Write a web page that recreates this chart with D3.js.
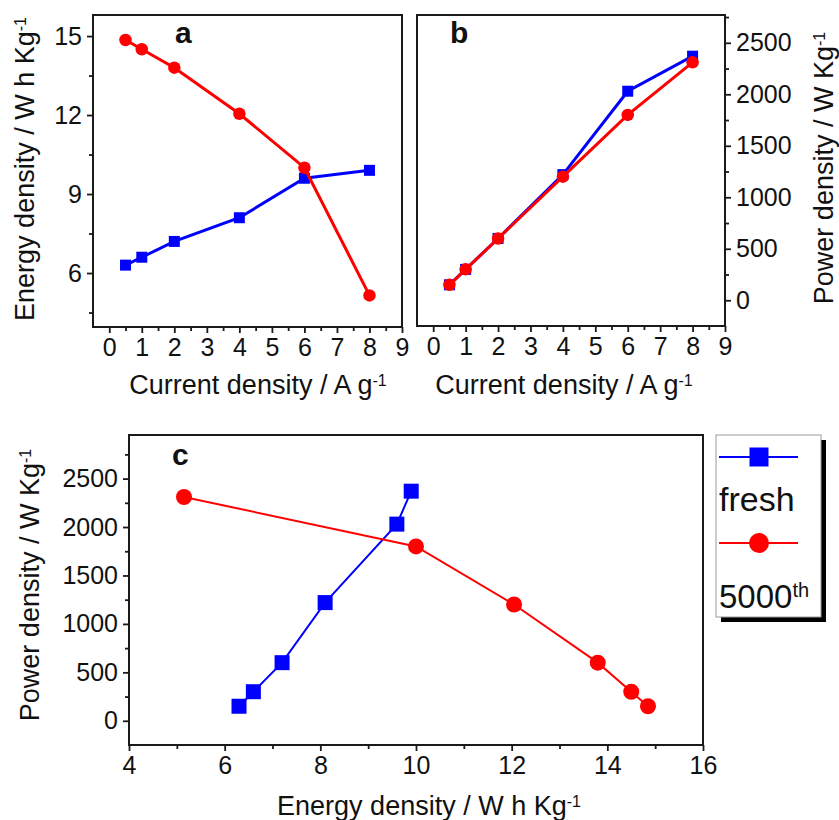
<!DOCTYPE html>
<html><head><meta charset="utf-8">
<script src="https://cdn.jsdelivr.net/npm/d3@7"></script>
<style>body{margin:0;background:#fff}svg{display:block}text{font-family:"Liberation Sans",Arial,sans-serif}</style>
</head><body><svg id="c" width="839" height="820"></svg>
<script>
// Data
const current = [0.5, 1, 2, 4, 6, 8];
const energyFresh = [6.3, 6.6, 7.2, 8.1, 9.6, 9.9];
const energy5000 = [14.85, 14.5, 13.8, 12.05, 10.0, 5.15];
const powerFresh = [150, 300, 600, 1220, 2030, 2370];
const power5000 = [150, 300, 600, 1200, 1800, 2310];
const seriesNames = ["fresh", "5000"];
const xTicksAB = [0,1,2,3,4,5,6,7,8,9];
const yTicksA = [6, 9, 12, 15];
const yTicksPower = [0, 500, 1000, 1500, 2000, 2500];
const xTicksC = [4, 6, 8, 10, 12, 14, 16];

const BLUE = "#0000ff", RED = "#ff0000", INK = "#1a1a1a";
const svg = d3.select("#c");
svg.append("rect").attr("width",839).attr("height",820).attr("fill","#fff");

function frame(x0,y0,x1,y1){
  svg.append("rect").attr("x",x0).attr("y",y0).attr("width",x1-x0).attr("height",y1-y0)
    .attr("fill","none").attr("stroke",INK).attr("stroke-width",2);
}
function axis(gen, scale, ticks, minor, tx, ty, fmt){
  const g = svg.append("g").attr("transform",`translate(${tx},${ty})`);
  g.call(gen(scale).tickValues(minor).tickSize(4).tickFormat(""));
  const g2 = svg.append("g").attr("transform",`translate(${tx},${ty})`);
  g2.call(gen(scale).tickValues(ticks).tickSize(6).tickPadding(5).tickFormat(fmt||(d=>d)));
  [g,g2].forEach(gg=>{
    gg.select(".domain").remove();
    gg.selectAll("line").attr("stroke",INK).attr("stroke-width",1.8);
    gg.selectAll("text").attr("font-size",25).attr("fill","#111");
  });
  return g2;
}
function series(xs, ys, sx, sy, color, shape, size, lw){
  const pts = xs.map((x,i)=>[sx(x), sy(ys[i])]);
  svg.append("path").attr("d", d3.line()(pts)).attr("fill","none").attr("stroke",color).attr("stroke-width",lw);
  pts.forEach(p=>{
    if(shape==="sq") svg.append("rect").attr("x",p[0]-size/2).attr("y",p[1]-size/2).attr("width",size).attr("height",size).attr("fill",color);
    else svg.append("circle").attr("cx",p[0]).attr("cy",p[1]).attr("r",size/2).attr("fill",color);
  });
}
function label(x,y,parts,opts={}){
  const t = svg.append("text").attr("font-size",opts.size||27).attr("fill","#111")
    .attr("text-anchor",opts.anchor||"middle");
  if(opts.rot) t.attr("transform",`translate(${x},${y}) rotate(${opts.rot})`);
  else t.attr("x",x).attr("y",y);
  if(opts.bold) t.attr("font-weight","bold");
  parts.forEach(p=>{
    if(typeof p==="string") t.append("tspan").text(p);
    else t.append("tspan").attr("font-size",p.size||16).attr("baseline-shift","super").text(p.sup);
  });
  return t;
}

// Panel a
const xa = d3.scaleLinear().domain([-0.5, 9]).range([93, 402]);
const ya = d3.scaleLinear().domain([3.95, 15.8]).range([327, 15]);
axis(d3.axisBottom, xa, xTicksAB, d3.range(0.5, 9, 1), 0, 327);
axis(d3.axisLeft, ya, yTicksA, [4.5, 7.5, 10.5, 13.5], 93, 0);
series(current, energyFresh, xa, ya, BLUE, "sq", 11, 3);
series(current, energy5000, xa, ya, RED, "ci", 12.5, 3);
frame(93,15,402,327);
label(175,43,["a"],{size:30,bold:true,anchor:"start"});
label(258,394,["Current density / A g",{sup:"-1"}]);
label(34,169,["Energy density / W h Kg",{sup:"-1"}],{rot:-90});

// Panel b
const xb = d3.scaleLinear().domain([-0.5, 9]).range([417, 725]);
const yb = d3.scaleLinear().domain([-250, 2770]).range([326, 15]);
axis(d3.axisBottom, xb, xTicksAB, d3.range(0.5, 9, 1), 0, 326);
axis(d3.axisRight, yb, yTicksPower, [250,750,1250,1750,2250,2750], 725, 0)
  .selectAll("text").attr("text-anchor","start");
series(current, powerFresh, xb, yb, BLUE, "sq", 11, 3);
series(current, power5000, xb, yb, RED, "ci", 12.5, 3);
frame(417,15,725,326);
label(450,43,["b"],{size:30,bold:true,anchor:"start"});
label(564,394,["Current density / A g",{sup:"-1"}]);
label(833,168,["Power density / W Kg",{sup:"-1"}],{rot:-90});

// Panel c
const xc = d3.scaleLinear().domain([4, 16]).range([129, 703]);
const yc = d3.scaleLinear().domain([-250, 2950]).range([745, 435]);
axis(d3.axisBottom, xc, xTicksC, [5,7,9,11,13,15], 0, 745);
axis(d3.axisLeft, yc, yTicksPower, [250,750,1250,1750,2250,2750], 129, 0);
series(energyFresh, powerFresh, xc, yc, BLUE, "sq", 15, 2);
series(energy5000, power5000, xc, yc, RED, "ci", 16, 2);
frame(129,435,703,745);
label(172,465,["c"],{size:30,bold:true,anchor:"start"});
label(429,815,["Energy density / W h Kg",{sup:"-1"}]);
label(39,585,["Power density / W Kg",{sup:"-1"}],{rot:-90});

// Legend
svg.append("rect").attr("x",721).attr("y",440).attr("width",105).attr("height",182).attr("fill","#000");
svg.append("rect").attr("x",716).attr("y",435).attr("width",105).attr("height",182).attr("fill","#fff").attr("stroke","#999").attr("stroke-width",1);
svg.append("line").attr("x1",719).attr("x2",798).attr("y1",457).attr("y2",457).attr("stroke",BLUE).attr("stroke-width",2);
svg.append("rect").attr("x",759-9.5).attr("y",457-9.5).attr("width",19).attr("height",19).attr("fill",BLUE);
label(719,511,[seriesNames[0]],{size:34,anchor:"start"});
svg.append("line").attr("x1",719).attr("x2",798).attr("y1",543).attr("y2",543).attr("stroke",RED).attr("stroke-width",2);
svg.append("circle").attr("cx",759).attr("cy",543).attr("r",10).attr("fill",RED);
label(719,608,[seriesNames[1],{sup:"th",size:20}],{size:33,anchor:"start"});
</script></body></html>
